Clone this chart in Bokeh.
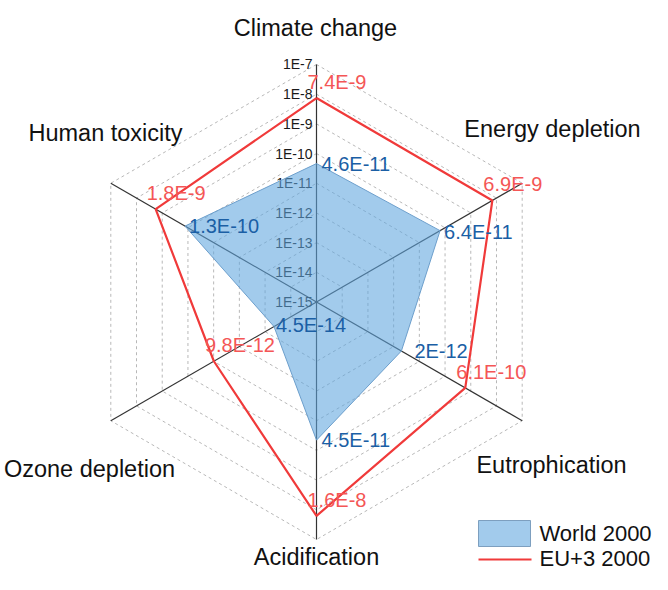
import numpy as np
from bokeh.plotting import figure
from bokeh.models import Range1d
from bokeh.embed import file_html
from bokeh.resources import INLINE
from bokeh.core.properties import value

# ---------------- data ----------------
categories = ["Climate change", "Energy depletion", "Eutrophication",
              "Acidification", "Ozone depletion", "Human toxicity"]
world_2000 = [4.6e-11, 6.4e-11, 2e-12, 4.5e-11, 4.5e-14, 1.3e-10]
eu3_2000 = [7.4e-9, 6.9e-9, 6.1e-10, 1.6e-8, 9.8e-12, 1.8e-9]
world_labels = ["4.6E-11", "6.4E-11", "2E-12", "4.5E-11", "4.5E-14", "1.3E-10"]
eu3_labels = ["7.4E-9", "6.9E-9", "6.1E-10", "1.6E-8", "9.8E-12", "1.8E-9"]
tick_values = [1e-15, 1e-14, 1e-13, 1e-12, 1e-11, 1e-10, 1e-9, 1e-8, 1e-7]
tick_labels = ["1E-15", "1E-14", "1E-13", "1E-12", "1E-11", "1E-10", "1E-9", "1E-8", "1E-7"]
series_names = ["World 2000", "EU+3 2000"]

# ---------------- layout ----------------
W, H = 652, 574
S = 29.69                 # pixels per decade
CX, CY = 316.0, 301.5     # centre in canvas pixels
LOG_MIN = np.log10(tick_values[0])
LOG_MAX = np.log10(tick_values[-1])
R_MAX = LOG_MAX - LOG_MIN
FONT = "Liberation Sans"

p = figure(width=W, height=H, output_backend="svg", toolbar_location=None,
           x_range=Range1d(-CX / S, (W - CX) / S),
           y_range=Range1d(-(H - CY) / S, CY / S),
           x_axis_type=None, y_axis_type=None, min_border=0)
p.outline_line_color = None
p.xgrid.visible = False
p.ygrid.visible = False
p.background_fill_color = "white"

n = len(categories)
angles = np.deg2rad([90 - 60 * i for i in range(n)])


def polar(vals):
    r = np.log10(np.asarray(vals, dtype=float)) - LOG_MIN
    return r * np.cos(angles), r * np.sin(angles)


def px(dx):     # screen px -> data units (x)
    return dx / S


def py(dy):     # screen px (down) -> data units (y)
    return -dy / S


def X(cx):      # canvas pixel -> data x
    return (cx - CX) / S


def Y(cy):      # canvas pixel -> data y
    return (CY - cy) / S


# grid hexagons
gxs, gys = [], []
for tv in tick_values[1:]:
    r = np.log10(tv) - LOG_MIN
    gxs.append(list(r * np.cos(angles)) + [r * np.cos(angles[0])])
    gys.append(list(r * np.sin(angles)) + [r * np.sin(angles[0])])
p.multi_line(gxs, gys, line_color="#b8b8b8", line_dash="3 3", line_width=1)

# axes
p.segment(x0=np.zeros(n), y0=np.zeros(n), x1=R_MAX * np.cos(angles), y1=R_MAX * np.sin(angles),
          line_color="#333333", line_width=1.2)

# radial tick labels on the top axis
tr = np.log10(tick_values) - LOG_MIN
p.text(x=np.full(len(tr), px(-4)), y=tr, text=tick_labels, text_align="right",
       text_baseline="middle", text_font=value(FONT), text_font_size="14px",
       text_color="#1a1a1a")

# World 2000 (filled)
wx, wy = polar(world_2000)
patch_r = p.patch(list(wx), list(wy), fill_color="#5fa6de", fill_alpha=0.58,
                  line_color="#6d9fcc", line_width=1)

# EU+3 2000 (line)
ex, ey = polar(eu3_2000)
line_r = p.line(list(ex) + [ex[0]], list(ey) + [ey[0]], line_color="#f03a3a", line_width=2.2)

# value labels
w_off = [(5, 0), (4, 1), (13, 0), (5, 0), (2, -2), (4, 0)]
p.text(x=[wx[i] + px(w_off[i][0]) for i in range(n)],
       y=[wy[i] + py(w_off[i][1]) for i in range(n)],
       text=world_labels, text_align="left", text_baseline="middle",
       text_font=value(FONT), text_font_size="20px", text_color="#1b5fa5")
p.text(x=[ex[i] + px(-9) for i in range(n)], y=[ey[i] + py(-16) for i in range(n)],
       text=eu3_labels, text_align="left", text_baseline="middle",
       text_font=value(FONT), text_font_size="20px", text_color="#f45656")

# category labels (canvas pixel centres)
c_pos = [(315, 27), (552, 128), (551, 464), (316, 556), (89, 468), (105, 132)]
p.text(x=[X(c[0]) for c in c_pos], y=[Y(c[1]) for c in c_pos],
       text=categories, text_align="center", text_baseline="middle",
       text_font=value(FONT), text_font_size="23.5px", text_color="#111111")

# legend (drawn manually)
p.quad(left=[X(478)], right=[X(530)], top=[Y(520)], bottom=[Y(546)],
       fill_color="#5fa6de", fill_alpha=0.58, line_color="#7d9fbf", line_width=1)
p.line([X(478), X(531)], [Y(559), Y(559)], line_color="#f03a3a", line_width=2.2)
p.text(x=[X(539), X(539)], y=[Y(533), Y(558)], text=series_names,
       text_align="left", text_baseline="middle", text_font=value(FONT),
       text_font_size="22px", text_color="#111111")

open("out.html", "w").write(file_html(p, INLINE))
